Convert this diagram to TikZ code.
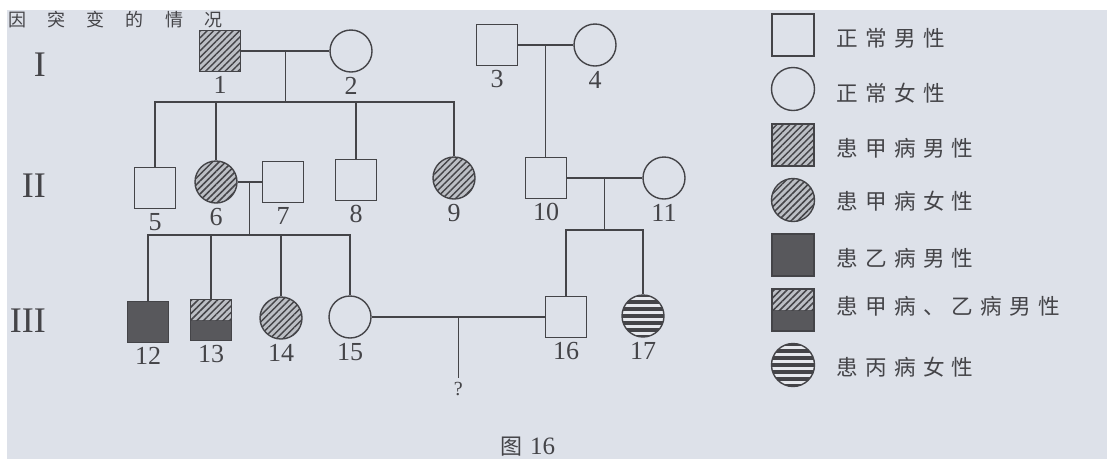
\documentclass[tikz,border=0pt]{standalone}
\usepackage{fontspec}
\setmainfont{Liberation Serif}
\newfontfamily\cjk{Noto Sans CJK SC}
\newfontfamily\cjksp[LetterSpace=34]{Noto Sans CJK SC}
\newfontfamily\cjkwide[LetterSpace=118]{Noto Sans CJK SC}
\usetikzlibrary{patterns.meta,calc}
\definecolor{paper}{RGB}{221,225,233}
\definecolor{ink}{RGB}{68,68,72}
\definecolor{hbase}{RGB}{188,191,197}
\definecolor{dark}{RGB}{88,88,92}
\definecolor{stripebg}{RGB}{230,232,237}
\newcommand\numsize{\fontsize{26}{26}\selectfont}
\newcommand\gensize{\fontsize{36}{36}\selectfont}
\newcommand\legsize{\fontsize{21.6}{22}\selectfont}

\tikzset{
  pd/.style={draw=ink, line width=1.4pt},
  male/.style={pd, rectangle, minimum size=41pt, inner sep=0pt},
  female/.style={pd, circle, minimum size=42pt, inner sep=0pt},
  hatch/.style={preaction={fill=hbase},
    pattern={Lines[angle=45,distance=4.6pt,line width=1.5pt]}, pattern color=ink},
  affB/.style={fill=dark},
  halfAB/.style={path picture={
    \fill[dark] (path picture bounding box.west) rectangle (path picture bounding box.south east);
    \fill[hbase] (path picture bounding box.north west) rectangle (path picture bounding box.east);
    \path[pattern={Lines[angle=45,distance=4.6pt,line width=1.5pt]}, pattern color=ink]
      (path picture bounding box.north west) rectangle (path picture bounding box.east);}},
  stripy/.style={fill=stripebg, path picture={
    \foreach \d in {-21,-14,...,21}
      \draw[ink, line width=4pt] ([yshift=\d pt]path picture bounding box.west) -- ++(60,0);}},
  num/.style={font=\numsize, text=ink, inner sep=0pt},
  gen/.style={font=\gensize, text=ink, inner sep=0pt, anchor=east},
  legtext/.style={font=\cjksp\legsize, text=ink, inner sep=0pt, anchor=west},
  link/.style={draw=ink, line width=1.4pt},
  lab/.style={label={[num, label distance=4pt]below:#1}},
}

\begin{document}
\begin{tikzpicture}[x=1pt, y=-1pt]
\useasboundingbox (0,0) rectangle (1107,459);
\fill[white] (0,0) rectangle (1107,459);
\fill[paper] (7,10) rectangle (1107,459);

% heading line above the figure
\node[anchor=base west, inner sep=0pt, font=\cjkwide\fontsize{18}{18}\selectfont, text=ink] (head) at (8,26) {因突变的情况};

% generation numerals
\node[gen] (gI)   at (46,65)  {I};
\node[gen] (gII)  at (46,186) {II};
\node[gen] (gIII) at (46,321) {III};

% generation I
\node[male, hatch, lab=1] (n1) at (220,51) {};
\node[female, lab=2]      (n2) at (351,51) {};
\node[male, lab=3]        (n3) at (497,45) {};
\node[female, lab=4]      (n4) at (595,45) {};

% generation II
\node[male, lab=5]          (n5)  at (155,188) {};
\node[female, hatch, lab=6] (n6)  at (216,182) {};
\node[male, lab=7]          (n7)  at (283,182) {};
\node[male, lab=8]          (n8)  at (356,180) {};
\node[female, hatch, lab=9] (n9)  at (454,178) {};
\node[male, lab=10]         (n10) at (546,178) {};
\node[female, lab=11]       (n11) at (664,178) {};

% generation III
\node[male, affB, lab=12]    (n12) at (148,322) {};
\node[male, halfAB, lab=13]  (n13) at (211,320) {};
\node[female, hatch, lab=14] (n14) at (281,318) {};
\node[female, lab=15]        (n15) at (350,317) {};
\node[male, lab=16]          (n16) at (566,317) {};
\node[female, stripy, lab=17] (n17) at (643,316) {};

% marriages and their descent points
\coordinate (c12)   at ($(n1.east)!0.5!(n2.west)$);
\coordinate (c34)   at ($(n3.east)!0.5!(n4.west)$);
\coordinate (c67)   at ($(n6.east)!0.5!(n7.west)$);
\coordinate (c1011) at ($(n10.east)!0.5!(n11.west)$);
\coordinate (c1516) at ($(n15.east)!0.5!(n16.west)$);
\coordinate (sI)  at (c12 |- 0,102);
\coordinate (sL)  at (c67 |- 0,235);
\coordinate (sR)  at (c1011 |- 0,230);

\draw[link] (n1.east) -- (n2.west);
\draw[link] (n3.east) -- (n4.west);
\draw[link] (n6.east) -- (n7.west);
\draw[link] (n10.east) -- (n11.west);
\draw[link] (n15.east) -- (n16.west);

% sibship of 1 x 2
\draw[link] (c12) -- (sI);
\draw[link] (n5.north) |- (sI) -| (n9.north);
\draw[link] (n6.north) -- (n6.north |- sI);
\draw[link] (n8.north) -- (n8.north |- sI);

% child of 3 x 4
\draw[link] (c34) -- (c34 |- n10.north);

% sibship of 6 x 7
\draw[link] (c67) -- (sL);
\draw[link] (n12.north) |- (sL) -| (n15.north);
\draw[link] (n13.north) -- (n13.north |- sL);
\draw[link] (n14.north) -- (n14.north |- sL);

% sibship of 10 x 11
\draw[link] (c1011) -- (sR);
\draw[link] (n16.north) |- (sR) -| (n17.north);

% unborn child of 15 x 16
\node[num, font=\fontsize{20}{20}\selectfont, inner sep=4pt] (q) at ($(c1516)+(0,72)$) {?};
\draw[link] (c1516) -- (q.north);

% legend
\node[male, minimum size=42pt]         (k1) at (793,35)  {};
\node[female, minimum size=43pt]       (k2) at (793,89)  {};
\node[male, hatch, minimum size=42pt]  (k3) at (793,145) {};
\node[female, hatch, minimum size=43pt] (k4) at (793,200) {};
\node[male, affB, minimum size=42pt]   (k5) at (793,255) {};
\node[male, halfAB, minimum size=42pt] (k6) at (793,310) {};
\node[female, stripy, minimum size=43pt] (k7) at (793,365) {};
\node[legtext] (t1) at (836,38)  {正常男性};
\node[legtext] (t2) at (836,93)  {正常女性};
\node[legtext] (t3) at (836,148) {患甲病男性};
\node[legtext] (t4) at (836,201) {患甲病女性};
\node[legtext] (t5) at (836,258) {患乙病男性};
\node[legtext] (t6) at (836,306) {患甲病、乙病男性};
\node[legtext] (t7) at (836,367) {患丙病女性};

% caption
\node[text=ink, inner sep=0pt, anchor=west] (cap) at (500,447)
  {{\cjk\fontsize{22}{22}\selectfont 图}\hspace{8pt}{\fontsize{25}{25}\selectfont 16}};
\end{tikzpicture}
\end{document}
